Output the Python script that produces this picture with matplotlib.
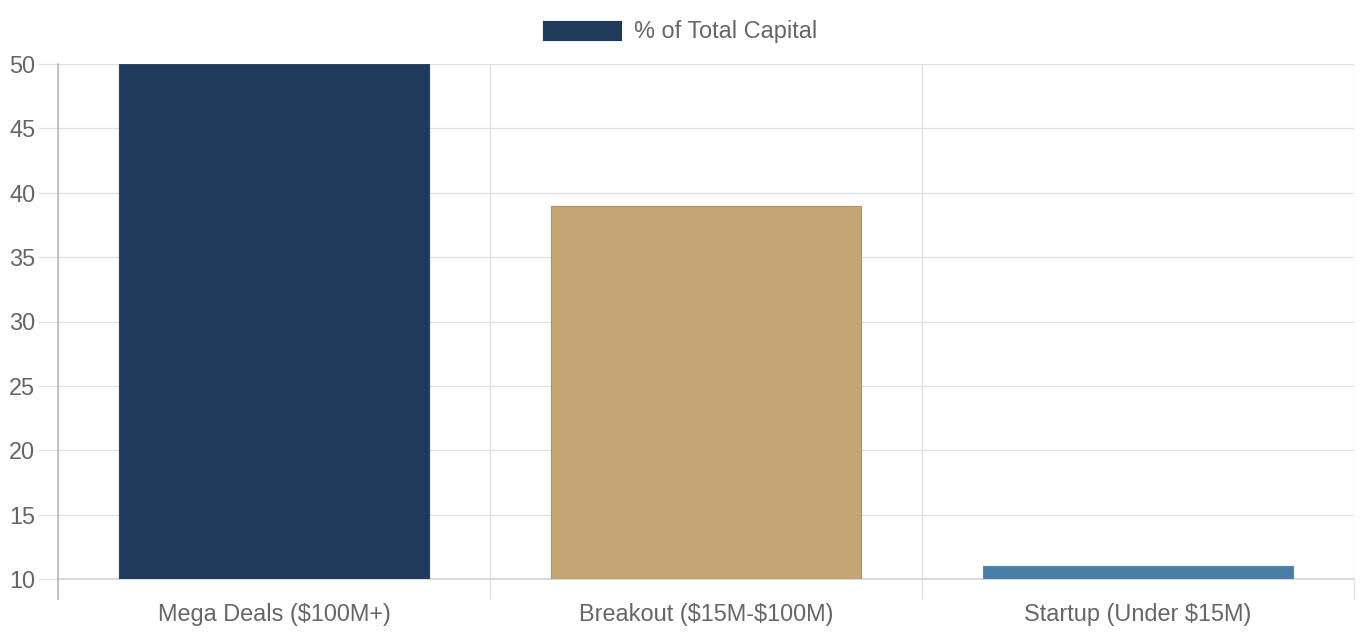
import matplotlib as mpl
import matplotlib.pyplot as plt
import numpy as np

mpl.use("Agg")

categories = ["Mega Deals ($100M+)", "Breakout ($15M-$100M)", "Startup (Under $15M)"]
values = [50, 39, 11]
bar_colors = ["#1f3a5a", "#c4a574", "#487da5"]
edge_colors = ["#2b4666", "#b39460", "#5a8db4"]
series_label = "% of Total Capital"
y_ticks = [10, 15, 20, 25, 30, 35, 40, 45, 50]

plt.rcParams["font.family"] = ["Liberation Sans", "DejaVu Sans"]
plt.rcParams["text.parse_math"] = False
TEXT = "#666666"
GRID = "#e1e1e1"
PX = 72 / 100  # points per pixel at dpi 100
FS = 23.5 * PX

fig = plt.figure(figsize=(13.6, 6.4), dpi=100)
ax = fig.add_axes([58 / 1360, 1 - 579 / 640, (1354 - 58) / 1360, (579 - 64) / 640])

x = np.arange(len(categories))
bars = ax.bar(x, [v - 10 for v in values], bottom=10, width=0.717,
              color=bar_colors, edgecolor=edge_colors, linewidth=1.2 * PX,
              zorder=3, label=series_label)

ax.set_xlim(-0.5, len(categories) - 0.5)
ax.set_ylim(10, 50)
ax.set_yticks(y_ticks)
ax.set_xticks(x)
ax.set_xticklabels(categories)
ax.set_xticks(np.arange(len(categories) + 1) - 0.5, minor=True)

ax.tick_params(axis="y", length=20 * PX, width=1.3 * PX, color=GRID, pad=2,
               labelsize=FS, labelcolor=TEXT)
ax.tick_params(axis="x", which="major", length=0, pad=24 * PX,
               labelsize=FS, labelcolor=TEXT)
ax.tick_params(axis="x", which="minor", length=20 * PX, width=1.3 * PX, color=GRID)

ax.grid(True, axis="y", which="major", color=GRID, linewidth=1.3 * PX, zorder=0)
ax.grid(True, axis="x", which="minor", color=GRID, linewidth=1.3 * PX, zorder=0)

for side in ["top", "right"]:
    ax.spines[side].set_visible(False)
ax.spines["left"].set_color("#b5b5b5")
ax.spines["left"].set_linewidth(1.5 * PX)
ax.spines["left"].set_bounds(10, 50)
ax.spines["bottom"].set_color("#cfcfcf")
ax.spines["bottom"].set_linewidth(1.5 * PX)
ax.spines["left"].set_zorder(4)

# left spine extends down into the tick area like Chart.js
ax.plot([-0.5, -0.5], [10, 10 - 20 / 515 * 40], color="#b5b5b5",
        linewidth=1.5 * PX, clip_on=False, zorder=4)

handle = plt.Rectangle((0, 0), 1, 1, facecolor=bar_colors[0], edgecolor="#f0f0f0",
                       linewidth=1 * PX)
leg = fig.legend([handle], [series_label], loc="center", bbox_to_anchor=(680 / 1360, 1 - 31.5 / 640),
                 frameon=False, fontsize=FS, handlelength=80 / 23.5, handleheight=1.05,
                 handletextpad=12 / 23.5, borderpad=0)
for t in leg.get_texts():
    t.set_color(TEXT)

fig.savefig("out.png", dpi=100)
